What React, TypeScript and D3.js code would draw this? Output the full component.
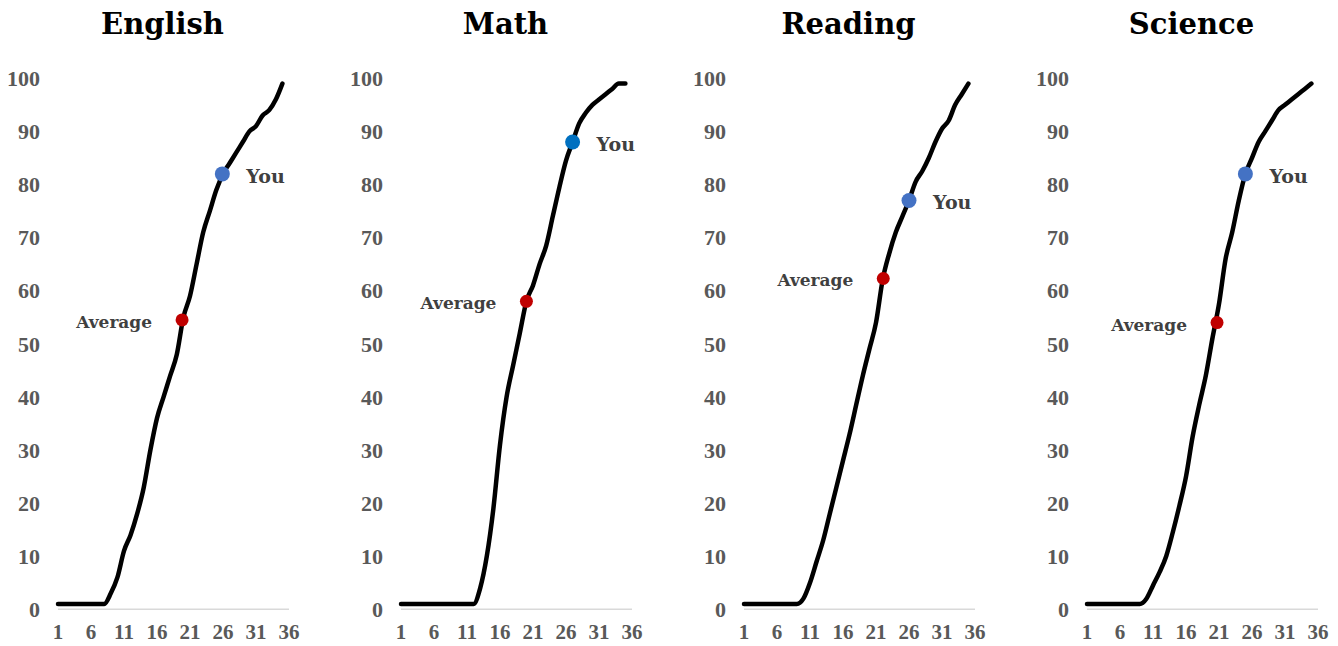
import React, { useRef, useEffect } from 'react';
import * as d3 from 'd3';

// ACT scores on the x axis
const scores = [1, 2, 3, 4, 5, 6, 7, 8, 9, 10, 11, 12, 13, 14, 15, 16, 17, 18, 19, 20, 21, 22, 23, 24, 25, 26, 27, 28, 29, 30, 31, 32, 33, 34, 35];
const xTicks = [1, 6, 11, 16, 21, 26, 31, 36];
const yTicks = [0, 10, 20, 30, 40, 50, 60, 70, 80, 90, 100];

const subjects = ['English', 'Math', 'Reading', 'Science'];

// cumulative percentile per score
const english = [1, 1, 1, 1, 1, 1, 1, 1, 3, 6, 11, 14, 18, 23, 30, 36, 40, 44, 48, 55, 59, 65, 71, 75, 79, 82, 84, 86, 88, 90, 91, 93, 94, 96, 99];
const math = [1, 1, 1, 1, 1, 1, 1, 1, 1, 1, 1, 1, 4, 10, 19, 31, 40, 46, 52, 58, 61, 65, 68.5, 74, 79.5, 84.5, 88, 91.5, 93.5, 95, 96, 97, 98, 99, 99];
const reading = [1, 1, 1, 1, 1, 1, 1, 1, 1, 2, 5, 9, 13, 18, 23, 28, 33, 38.5, 44, 49, 54, 62, 67, 71, 74, 77, 80.5, 82.5, 85, 88, 90.5, 92, 95, 97, 99];
const science = [1, 1, 1, 1, 1, 1, 1, 1, 1, 2, 4.5, 7, 10, 14.5, 19.5, 25, 32.5, 38.5, 44, 51, 57.5, 66, 71, 77, 82, 85, 88, 90, 92, 94, 95, 96, 97, 98, 99];

// marker points: [score, percentile]
const averagePoints: [number, number][] = [[19.8, 54.5], [20, 58], [22.1, 62.3], [20.7, 54]];
const youPoints: [number, number][] = [[25.9, 82], [27, 88], [26, 77], [25, 82]];
const youColors = ['#4472C4', '#0070C0', '#4472C4', '#4472C4'];

const allSeries = [english, math, reading, science];

const W = 1338;
const H = 646;

const App: React.FC = () => {
  const ref = useRef<SVGSVGElement | null>(null);

  useEffect(() => {
    document.body.style.margin = '0';
    if (!ref.current) return;
    const svg = d3.select(ref.current);
    svg.selectAll('*').remove();

    const panelStart = 58;
    const panelStep = 343;
    const plotWidth = 231;

    const y = d3.scaleLinear().domain([0, 100]).range([609.3, 78.3]);

    subjects.forEach((name, i) => {
      const x0 = panelStart + i * panelStep;
      const x = d3.scaleLinear().domain([1, 36]).range([x0, x0 + plotWidth]);
      const g = svg.append('g');

      // title
      g.append('text')
        .attr('x', x0 + plotWidth / 2 - 11)
        .attr('y', 34)
        .attr('text-anchor', 'middle')
        .attr('font-family', 'DejaVu Serif')
        .attr('font-weight', 'bold')
        .attr('font-size', 29)
        .attr('fill', '#000')
        .text(name);

      // y tick labels
      g.selectAll('text.ytick')
        .data(yTicks)
        .enter()
        .append('text')
        .attr('class', 'ytick')
        .attr('x', x0 - 18)
        .attr('y', d => y(d))
        .attr('dy', '0.35em')
        .attr('text-anchor', 'end')
        .attr('font-family', 'Liberation Serif')
        .attr('font-weight', 'bold')
        .attr('font-size', 22)
        .attr('fill', '#595959')
        .text(d => d);

      // x axis line
      g.append('line')
        .attr('x1', x(1))
        .attr('x2', x(36))
        .attr('y1', y(0))
        .attr('y2', y(0))
        .attr('stroke', '#d9d9d9')
        .attr('stroke-width', 1.5);

      // x tick labels
      g.selectAll('text.xtick')
        .data(xTicks)
        .enter()
        .append('text')
        .attr('class', 'xtick')
        .attr('x', d => x(d))
        .attr('y', 632)
        .attr('dy', '0.35em')
        .attr('text-anchor', 'middle')
        .attr('font-family', 'Liberation Serif')
        .attr('font-weight', 'bold')
        .attr('font-size', 21)
        .attr('fill', '#595959')
        .text(d => d);

      // percentile curve
      const values = allSeries[i];
      const line = d3.line<number>()
        .x((_, j) => x(scores[j]))
        .y(d => y(d))
        .curve(d3.curveMonotoneX);

      g.append('path')
        .datum(values)
        .attr('fill', 'none')
        .attr('stroke', '#000')
        .attr('stroke-width', 4.5)
        .attr('stroke-linejoin', 'round')
        .attr('stroke-linecap', 'round')
        .attr('d', line);

      // average marker
      const [ax, ay] = averagePoints[i];
      g.append('circle')
        .attr('cx', x(ax))
        .attr('cy', y(ay))
        .attr('r', 6.5)
        .attr('fill', '#C00000');
      g.append('text')
        .attr('x', x(ax) - 30)
        .attr('y', y(ay) + 2)
        .attr('dy', '0.35em')
        .attr('text-anchor', 'end')
        .attr('font-family', 'DejaVu Serif')
        .attr('font-weight', 'bold')
        .attr('font-size', 17)
        .attr('fill', '#404040')
        .text('Average');

      // "You" marker
      const [yx, yy] = youPoints[i];
      g.append('circle')
        .attr('cx', x(yx))
        .attr('cy', y(yy))
        .attr('r', 7.5)
        .attr('fill', youColors[i]);
      g.append('text')
        .attr('x', x(yx) + 24)
        .attr('y', y(yy) + 2)
        .attr('dy', '0.35em')
        .attr('text-anchor', 'start')
        .attr('font-family', 'DejaVu Serif')
        .attr('font-weight', 'bold')
        .attr('font-size', 19)
        .attr('fill', '#404040')
        .text('You');
    });
  }, []);

  return <svg ref={ref} width={W} height={H} style={{ display: 'block', background: '#fff' }} />;
};

export default App;
